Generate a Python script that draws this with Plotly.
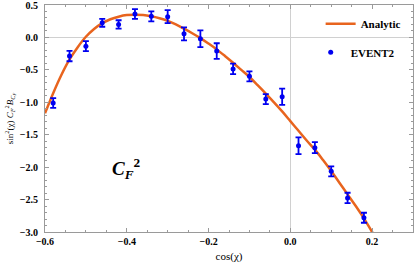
import plotly.graph_objects as go

# EVENT2 data points
x_event = [-0.58, -0.54, -0.50, -0.46, -0.42, -0.38, -0.34, -0.30, -0.26, -0.22,
           -0.18, -0.14, -0.10, -0.06, -0.02, 0.02, 0.06, 0.10, 0.14, 0.18]
y_event = [-1.01, -0.287, -0.135, 0.225, 0.20, 0.36, 0.325, 0.32, 0.055, -0.02,
           -0.21, -0.485, -0.60, -0.95, -0.915, -1.67, -1.70, -2.065, -2.475, -2.78]
err_event = [0.075, 0.08, 0.077, 0.06, 0.065, 0.075, 0.077, 0.10, 0.10, 0.13,
             0.12, 0.08, 0.077, 0.077, 0.125, 0.13, 0.085, 0.077, 0.08, 0.077]

# Analytic curve
x_curve = [-0.60, -0.58, -0.56, -0.54, -0.52, -0.50, -0.48, -0.46, -0.44, -0.42,
           -0.40, -0.38, -0.36, -0.34, -0.32, -0.30, -0.28, -0.26, -0.24, -0.22,
           -0.20, -0.18, -0.16, -0.14, -0.12, -0.10, -0.08, -0.06, -0.04, -0.02,
           0.00, 0.02, 0.04, 0.06, 0.08, 0.10, 0.12, 0.14, 0.16, 0.18, 0.20, 0.22]
y_curve = [-1.17, -0.86, -0.58, -0.34, -0.15, 0.01, 0.13, 0.22, 0.28, 0.32,
           0.345, 0.35, 0.345, 0.325, 0.295, 0.255, 0.20, 0.135, 0.065, -0.01,
           -0.095, -0.185, -0.285, -0.39, -0.50, -0.61, -0.735, -0.865, -1.0, -1.14,
           -1.29, -1.44, -1.59, -1.73, -1.89, -2.06, -2.24, -2.42, -2.60, -2.79, -3.0, -3.2]

x_ticks = [-0.6, -0.4, -0.2, 0.0, 0.2]
y_ticks = [0.5, 0.0, -0.5, -1.0, -1.5, -2.0, -2.5, -3.0]

SERIF = "Liberation Serif, Times New Roman, serif"
FRAME = "#9a9a9a"

fig = go.Figure()
fig.add_trace(go.Scatter(
    x=x_curve, y=y_curve, mode="lines", name="Analytic",
    line=dict(color="#E8641E", width=2.5, shape="spline"),
    legend="legend",
))
fig.add_trace(go.Scatter(
    x=x_event, y=y_event, mode="markers", name="EVENT2",
    marker=dict(color="#0000F0", size=5),
    error_y=dict(type="data", array=err_event, color="#0000F0", thickness=1.8, width=3),
    legend="legend2",
))

axis_common = dict(
    showline=True, linecolor=FRAME, linewidth=1, mirror="ticks",
    ticks="inside", ticklen=4, tickcolor=FRAME, tickwidth=1,
    showgrid=False, zeroline=True, zerolinecolor="#d0d0d0", zerolinewidth=1,
    tickfont=dict(family=SERIF, size=10, color="black", weight="bold"),
    tickformat=".1f", automargin=False, ticklabeloverflow="allow",
)

fig.update_xaxes(
    range=[-0.6, 0.3], tickvals=x_ticks,
    minor=dict(dtick=0.05, tick0=-0.6, ticks="inside", ticklen=2, tickcolor=FRAME),
    title=dict(text="cos(χ)", font=dict(family=SERIF, size=11, color="black"), standoff=6),
    **axis_common,
)
fig.update_yaxes(
    range=[-3.0, 0.5], tickvals=y_ticks,
    minor=dict(dtick=0.1, tick0=0, ticks="inside", ticklen=2, tickcolor=FRAME),
    ticklabelstandoff=4,
    title=dict(text="sin<sup>2</sup>(χ) <i>C<sub>F</sub></i><sup>2</sup><i>B<sub>C<sub>F</sub></sub></i>",
               font=dict(family=SERIF, size=9, color="black"), standoff=4),
    **axis_common,
)

fig.add_annotation(
    x=-0.40, y=-2.02, xref="x", yref="y", showarrow=False,
    text="<b><i>C<sub>F</sub></i><sup>2</sup></b>",
    font=dict(family=SERIF, size=19, color="black"),
)

leg_font = dict(family=SERIF, size=11, color="black", weight="bold")
fig.update_layout(
    width=415, height=265,
    margin=dict(l=45, r=2, t=5, b=33),
    paper_bgcolor="white", plot_bgcolor="white",
    showlegend=True,
    legend=dict(x=0.749, y=0.917, xanchor="left", yanchor="middle",
                bgcolor="rgba(0,0,0,0)", font=leg_font, itemwidth=30),
    legend2=dict(x=0.722, y=0.792, xanchor="left", yanchor="middle",
                 bgcolor="rgba(0,0,0,0)", font=leg_font),
)

fig.write_html("out.html", config={"displayModeBar": False},
               post_script="document.body.style.margin='0';")
